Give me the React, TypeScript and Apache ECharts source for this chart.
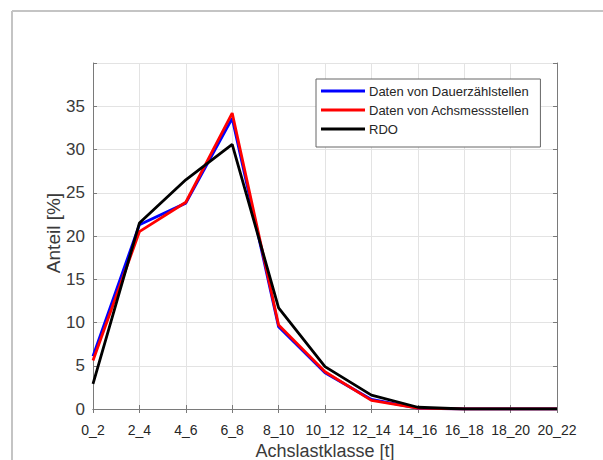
import React, { useEffect, useRef } from "react";
import * as echarts from "echarts";

const categories = ["0_2", "2_4", "4_6", "6_8", "8_10", "10_12", "12_14", "14_16", "16_18", "18_20", "20_22"];
const dauerzaehl = [6.1, 21.3, 23.8, 33.6, 9.5, 4.2, 1.1, 0.1, 0.0, 0.0, 0.0];
const achsmess = [5.6, 20.5, 23.9, 34.2, 9.7, 4.3, 1.0, 0.1, 0.0, 0.0, 0.0];
const rdo = [2.9, 21.5, 26.5, 30.6, 11.7, 4.9, 1.6, 0.2, 0.0, 0.0, 0.0];
const seriesNames = ["Daten von Dauerzählstellen", "Daten von Achsmessstellen", "RDO"];
const xTitle = "Achslastklasse [t]";
const yTitle = "Anteil [%]";

const FONT = "'Liberation Sans', Arial, Helvetica, sans-serif";
const AX = "#7a7a7a";
const TXT = "#262626";
const GRID = "#e3e3e3";

export default function App() {
  const ref = useRef<HTMLDivElement>(null);
  useEffect(() => {
    if (!ref.current) return;
    const chart = echarts.init(ref.current, undefined, { renderer: "svg" });
    chart.setOption({
      animation: false,
      backgroundColor: "#ffffff",
      textStyle: { fontFamily: FONT },
      grid: { left: 93, right: 46, top: 63, bottom: 51, containLabel: false },
      graphic: [
        { type: "line", shape: { x1: 12, y1: 11, x2: 603, y2: 11 }, style: { stroke: "#c4c4c4", lineWidth: 2 } },
        { type: "line", shape: { x1: 12, y1: 11, x2: 12, y2: 460 }, style: { stroke: "#c4c4c4", lineWidth: 2 } },
        {
          type: "text",
          x: 53,
          y: 233,
          rotation: Math.PI / 2,
          style: {
            text: yTitle,
            fontFamily: FONT,
            fontSize: 19,
            fill: "#3a3a3a",
            align: "center",
            verticalAlign: "middle",
          },
        },
        {
          type: "text",
          x: 325,
          y: 451,
          style: {
            text: xTitle,
            fontFamily: FONT,
            fontSize: 18,
            fill: "#3a3a3a",
            align: "center",
            verticalAlign: "middle",
          },
        },
      ],
      legend: {
        data: seriesNames,
        orient: "vertical",
        left: 316,
        top: 79,
        padding: [4, 11, 10, 5],
        itemGap: 3,
        itemWidth: 44,
        itemHeight: 3,
        icon: "rect",
        backgroundColor: "#ffffff",
        borderColor: "#666666",
        borderWidth: 1,
        textStyle: { fontFamily: FONT, fontSize: 13, color: TXT, lineHeight: 16, padding: [0, 0, 0, -1] },
      },
      xAxis: [
        {
          type: "category",
          data: categories,
          boundaryGap: false,
          axisLine: { show: true, lineStyle: { color: AX, width: 1 } },
          axisTick: { show: true, inside: true, length: 4, alignWithLabel: true, lineStyle: { color: AX } },
          axisLabel: { fontFamily: FONT, fontSize: 14, color: TXT, margin: 14, interval: 0 },
          splitLine: { show: true, lineStyle: { color: GRID, width: 1 } },
        },
        {
          type: "category",
          data: categories,
          boundaryGap: false,
          position: "top",
          axisLine: { show: true, lineStyle: { color: AX, width: 1 } },
          axisTick: { show: true, inside: true, length: 4, lineStyle: { color: AX } },
          axisLabel: { show: false },
          splitLine: { show: false },
        },
      ],
      yAxis: [
        {
          type: "value",
          min: 0,
          max: 40,
          interval: 5,
          axisLine: { show: true, lineStyle: { color: AX, width: 1 } },
          axisTick: { show: true, inside: true, length: 4, lineStyle: { color: AX } },
          axisLabel: {
            fontFamily: FONT,
            fontSize: 17,
            color: "#3a3a3a",
            margin: 8,
            formatter: (v: number) => (v === 40 ? "" : String(v)),
          },
          splitLine: { show: true, lineStyle: { color: GRID, width: 1 } },
        },
        {
          type: "value",
          min: 0,
          max: 40,
          interval: 5,
          position: "right",
          axisLine: { show: true, lineStyle: { color: AX, width: 1 } },
          axisTick: { show: true, inside: true, length: 4, lineStyle: { color: AX } },
          axisLabel: { show: false },
          splitLine: { show: false },
        },
      ],
      series: [
        {
          name: seriesNames[0],
          type: "line",
          data: dauerzaehl,
          showSymbol: false,
          symbol: "none",
          lineStyle: { color: "#0000ff", width: 2.8 },
          itemStyle: { color: "#0000ff" },
          z: 3,
        },
        {
          name: seriesNames[1],
          type: "line",
          data: achsmess,
          showSymbol: false,
          symbol: "none",
          lineStyle: { color: "#ff0000", width: 2.8 },
          itemStyle: { color: "#ff0000" },
          z: 4,
        },
        {
          name: seriesNames[2],
          type: "line",
          data: rdo,
          showSymbol: false,
          symbol: "none",
          lineStyle: { color: "#000000", width: 2.8 },
          itemStyle: { color: "#000000" },
          z: 5,
        },
      ],
    });
    return () => chart.dispose();
  }, []);
  return <div ref={ref} style={{ position: "fixed", left: 0, top: 0, width: 603, height: 460 }} />;
}
